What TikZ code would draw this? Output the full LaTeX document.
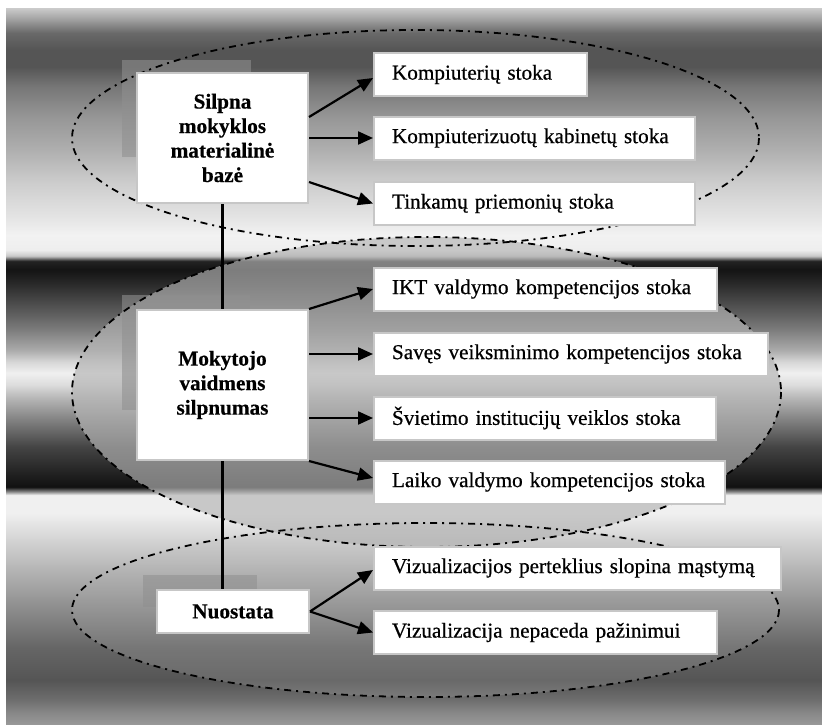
\documentclass[tikz,border=0pt]{standalone}
\usepackage{fontspec}
\setmainfont{Liberation Serif}
\newfontfamily\boxfont{Liberation Serif}[FakeBold=0.6]
\newfontfamily\causefont{Liberation Serif Bold}[FakeBold=0.5]
\usetikzlibrary{arrows.meta}

\definecolor{shadowgray}{gray}{0.565}
\definecolor{fillgray}{gray}{0.706}
\definecolor{boxedge}{gray}{0.78}

% metallic horizontal bands of the backdrop (bottom = 25bp, top = 75bp)
\pgfdeclareverticalshading{metalbands}{100bp}{%
  color(0bp)=(black!40); color(25bp)=(black!40);
  color(25.84bp)=(black!46.7); color(26.75bp)=(black!56.9);
  color(28.14bp)=(black!66.7); color(30.45bp)=(black!60);
  color(32.82bp)=(black!46.7); color(35.13bp)=(black!33.3);
  color(37.43bp)=(black!20); color(39.81bp)=(black!5.9);
  color(41.06bp)=(black!5.9); color(41.34bp)=(black!52.9);
  color(41.62bp)=(black!93.3); color(42.60bp)=(black!86.7);
  color(44.42bp)=(black!73.3); color(46.51bp)=(black!46.7);
  color(47.91bp)=(black!27.5); color(48.75bp)=(black!13.7);
  color(49.58bp)=(black!5.9); color(50.35bp)=(black!15.7);
  color(51.19bp)=(black!33.3); color(52.59bp)=(black!51);
  color(53.49bp)=(black!60.8); color(54.68bp)=(black!72.5);
  color(55.87bp)=(black!84.3); color(56.78bp)=(black!92.2);
  color(57.40bp)=(black!86.3); color(57.75bp)=(black!21.6);
  color(58.17bp)=(black!6.7); color(59.22bp)=(black!5.1);
  color(60.48bp)=(black!10.6); color(62.85bp)=(black!19.6);
  color(65.16bp)=(black!31.4); color(67.46bp)=(black!41.2);
  color(69.55bp)=(black!53.3); color(70.97bp)=(black!66.7);
  color(72.14bp)=(black!66.7); color(73.33bp)=(black!58.8);
  color(74.44bp)=(black!33.3); color(75bp)=(black!21.6);
  color(100bp)=(black!21.6)}

\pgfdeclarelayer{back}
\pgfsetlayers{back,main}

\begin{document}
\begin{tikzpicture}[x=1pt,y=-1pt,
  lbox/.style={draw=boxedge, line width=2pt, fill=white, align=center,
    inner sep=0pt, font=\fontsize{21.2}{24.5}\selectfont\causefont},
  rbox/.style={draw=boxedge, line width=2pt, fill=white, anchor=west,
    align=left, inner xsep=18pt, inner ysep=0pt, minimum height=43pt,
    font=\fontsize{21.2}{24.5}\selectfont\boxfont},
  arr/.style={line width=2.2pt, -{Triangle[length=15pt,width=13pt]}},
  link/.style={line width=2.2pt},
  group/.style={line width=1.8pt, dash pattern=on 7pt off 5pt on 2pt off 5pt},
  shadowbox/.style={fill=shadowgray, fill opacity=0.58}
]
\useasboundingbox (0,0) rectangle (822,725);

% causes
\node[lbox, minimum width=171pt, minimum height=130pt] (L1) at (222.5,138)
  {Silpna\\mokyklos\\materialinė\\bazė};
\node[lbox, minimum width=171pt, minimum height=150pt] (L2) at (222.5,385)
  {Mokytojo\\vaidmens\\silpnumas};
\node[lbox, minimum width=152pt, minimum height=43pt] (L3) at (233,611.5)
  {Nuostata};

% consequences
\node[rbox, text width=177pt] (R1) at (373,74.5)  {Kompiuterių stoka};
\node[rbox, text width=285pt] (R2) at (373,138)   {Kompiuterizuotų kabinetų stoka};
\node[rbox, text width=285pt] (R3) at (373,203.5) {Tinkamų priemonių stoka};
\node[rbox, text width=307pt] (R4) at (373,289)   {IKT valdymo kompetencijos stoka};
\node[rbox, text width=358pt] (R5) at (373,354)   {Savęs veiksminimo kompetencijos stoka};
\node[rbox, text width=306pt] (R6) at (373,418)   {Švietimo institucijų veiklos stoka};
\node[rbox, text width=315pt] (R7) at (373,482)   {Laiko valdymo kompetencijos stoka};
\node[rbox, text width=371pt] (R8) at (373,568)   {Vizualizacijos perteklius slopina mąstymą};
\node[rbox, text width=307pt] (R9) at (373,632.5) {Vizualizacija nepaceda pažinimui};

\begin{pgfonlayer}{back}
  % backdrop
  \shade[shading=metalbands] (6,9) rectangle (822,725);

  % tinted group areas
  \fill[fillgray, fill opacity=0.66] (426.5,392) ellipse [x radius=354.5, y radius=155];
  \fill[fillgray, fill opacity=0.22] (425.5,610) ellipse [x radius=353.5, y radius=87];

  % offset panels behind the cause boxes
  \fill[shadowbox] (122,60) rectangle (251,157);
  \fill[shadowbox] (122,295) rectangle (250,410);
  \fill[shadowbox] (143,575) rectangle (257,607);

  % group outlines
  \draw[group] (415.5,138) ellipse [x radius=343.5, y radius=108];
  \draw[group] (426.5,392) ellipse [x radius=354.5, y radius=155];
  \draw[group] (425.5,610) ellipse [x radius=353.5, y radius=87];

  % spine linking the causes
  \draw[link] (L1.south) -- (L1.south |- L3.north);
\end{pgfonlayer}

% arrows
\draw[arr] ([yshift=21pt]L1.east) -- ([yshift=-3.5pt]R1.west);
\draw[arr] (L1.east) -- (R2.west);
\draw[arr] ([yshift=-44pt]L1.east) -- (R3.west);

\draw[arr] (L2.north east) -- (R4.west);
\draw[arr] (L2.east |- R5.west) -- (R5.west);
\draw[arr] (L2.east |- R6.west) -- (R6.west);
\draw[arr] (L2.south east) -- ([yshift=4pt]R7.west);

\draw[arr] (L3.east) -- ([yshift=-2pt]R8.west);
\draw[arr] (L3.east) -- (R9.west);
\end{tikzpicture}
\end{document}
